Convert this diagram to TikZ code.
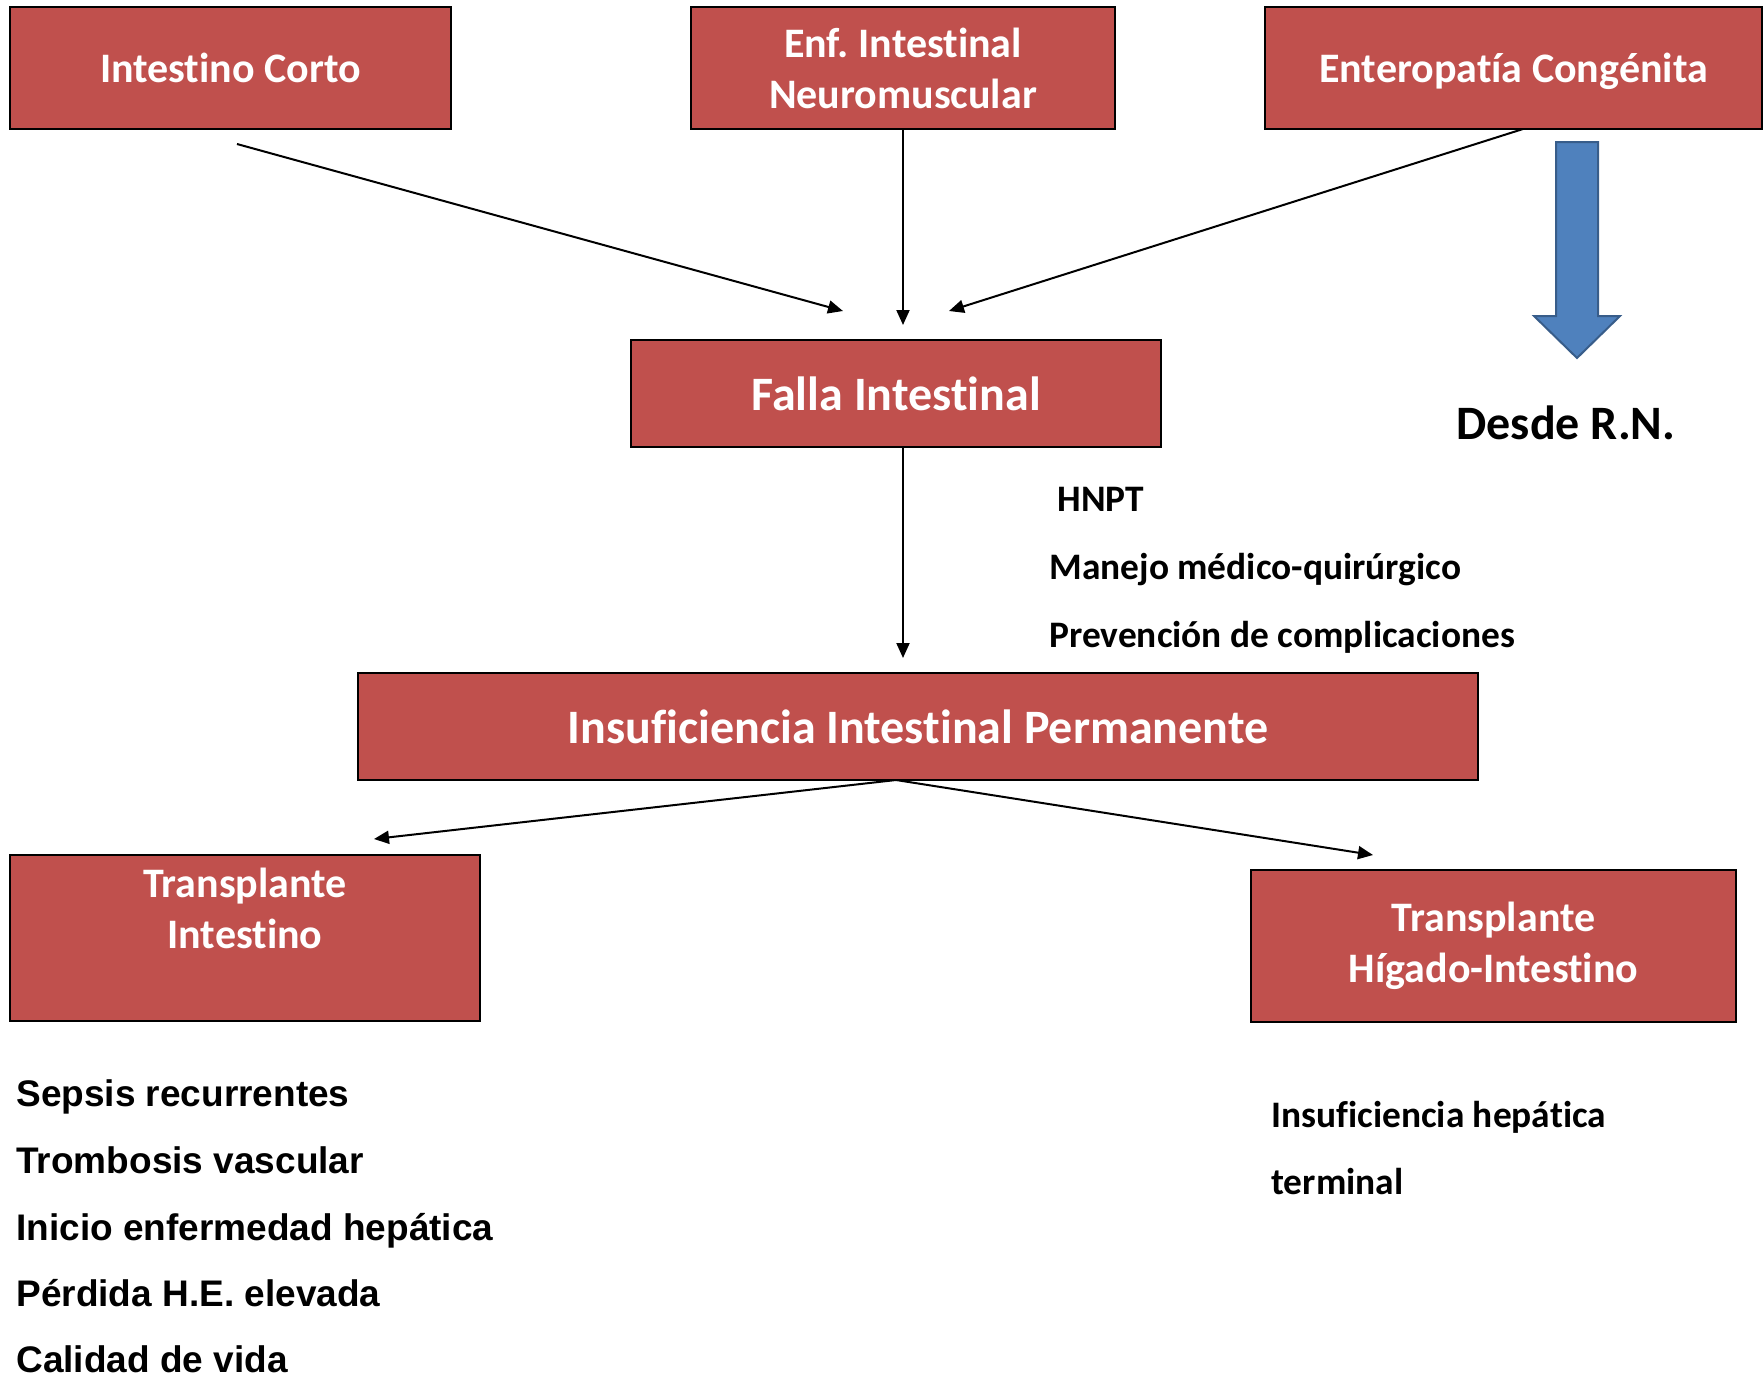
\documentclass[tikz,border=0pt]{standalone}
\usepackage{fontspec}
\setmainfont{Carlito}[Ligatures=NoCommon]
\newfontfamily\listfont{Liberation Sans}[Ligatures=NoCommon]
\usetikzlibrary{arrows.meta}
\definecolor{boxred}{HTML}{C0504D}
\definecolor{arrowblue}{HTML}{4F81BD}
\definecolor{arrowedge}{HTML}{385D8A}
\frenchspacing
\begin{document}
\begin{tikzpicture}[x=0.5pt,y=-0.5pt,
  redbox/.style={draw=black, line width=1.25pt, fill=boxred, text=white,
    font=\fontsize{21}{25.5}\selectfont\bfseries, align=center, inner sep=0pt},
  boxlabel/.style={text=white, font=\fontsize{21}{25.5}\selectfont\bfseries,
    align=center, inner sep=0pt},
  bigtext/.style={font=\fontsize{24}{28}\selectfont\bfseries},
  flow/.style={line width=1pt, -{Triangle[length=7.5pt,width=6.5pt]}},
  note/.style={font=\fontsize{18.7}{22}\selectfont\bfseries, anchor=base west, inner sep=0pt},
  risk/.style={font=\listfont\fontsize{18.5}{22}\selectfont\bfseries, anchor=base west, inner sep=0pt}
]
\useasboundingbox[fill=white] (0,0) rectangle (1763,1378);

% causes
\node[redbox, minimum width=220.5pt, minimum height=61pt] (ic) at (230.5,68) {Intestino Corto};
\node[redbox, minimum width=212pt, minimum height=61pt] (enf) at (903,68) {Enf. Intestinal\\Neuromuscular};
\node[redbox, text depth=0pt, minimum width=248.5pt, minimum height=61pt] (ent) at (1513.5,68) {Enteropatía Congénita};

% central chain
\node[redbox, bigtext, minimum width=265pt, minimum height=53.5pt] (falla) at (896,393.5) {Falla Intestinal};
\node[redbox, bigtext, minimum width=560pt, minimum height=53.5pt] (iip) at (918,726.5) {Insuficiencia Intestinal Permanente};

% transplant options
\node[redbox, minimum width=235pt, minimum height=83pt] (ti) at (245,938) {};
\node[boxlabel] (titext) at (245,908) {Transplante\\Intestino};
\node[redbox, minimum width=242.5pt, minimum height=76pt] (thi) at (1493.5,946) {Transplante\\Hígado-Intestino};

% block arrow below the congenital enteropathy box
\draw[fill=arrowblue, draw=arrowedge, line width=1pt]
  (1556,142) -- (1598,142) -- (1598,316) -- (1620,316) -- (1577,358)
  -- (1534,316) -- (1556,316) -- cycle;
\node[bigtext, anchor=base, inner sep=0pt] (rn) at (1566,439) {Desde R.N.};

% management notes
\node[note] (hnpt) at (1057,511) {HNPT};
\node[note] (manejo) at (1049,579) {Manejo médico-quirúrgico};
\node[note] (prev) at (1049,647) {Prevención de complicaciones};

\node[note] (ih1) at (1271,1127) {Insuficiencia hepática};
\node[note] (ih2) at (1271,1194) {terminal};

% indications for intestinal transplant
\node[risk] (r1) at (16,1106) {Sepsis recurrentes};
\node[risk] (r2) at (16,1173) {Trombosis vascular};
\node[risk] (r3) at (16,1240) {Inicio enfermedad hepática};
\node[risk] (r4) at (16,1306) {Pérdida H.E. elevada};
\node[risk] (r5) at (16,1372) {Calidad de vida};

% connector ends
\coordinate (a1s) at (237,144);
\coordinate (a1e) at (843,311);
\coordinate (a2e) at (903,325);
\coordinate (a3s) at (1523,129);
\coordinate (a3e) at (949,311);
\coordinate (a4s) at (903,447);
\coordinate (a4e) at (903,658);
\coordinate (a5s) at (896,780);
\coordinate (a5e) at (374,839);
\coordinate (a6e) at (1373,855);

\draw[flow] (a1s) -- (a1e);
\draw[flow] (enf.south) -- (a2e);
\draw[flow] (a3s) -- (a3e);
\draw[flow] (a4s) -- (a4e);
\draw[flow] (a5s) -- (a5e);
\draw[flow] (a5s) -- (a6e);
\end{tikzpicture}
\end{document}
